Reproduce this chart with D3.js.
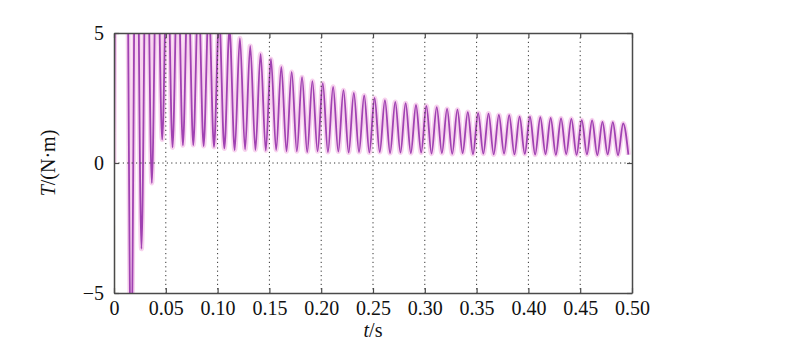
<!DOCTYPE html>
<html>
<head>
<meta charset="utf-8">
<script src="https://cdn.jsdelivr.net/npm/d3@7"></script>
<style>
  body { margin: 0; background: #fff; }
  text { font-family: "Liberation Serif", "Times New Roman", serif; }
</style>
</head>
<body>
<div id="chart"></div>
<script>
// tick values
const xTicks = [0, 0.05, 0.10, 0.15, 0.20, 0.25, 0.30, 0.35, 0.40, 0.45, 0.50];
const yTicks = [-5, 0, 5];

// torque signal: start point, then alternating peaks / troughs
const startPoint = [0, 0];
const peakTimes = [0.0015, 0.0115, 0.0215, 0.0315, 0.0415, 0.0515, 0.0615, 0.0715, 0.0815, 0.0915,
  0.1015, 0.1115, 0.1215, 0.1315, 0.1415, 0.1515, 0.1615, 0.1715, 0.1815, 0.1915,
  0.2015, 0.2115, 0.2215, 0.2315, 0.2415, 0.2515, 0.2615, 0.2715, 0.2815, 0.2915,
  0.3015, 0.3115, 0.3215, 0.3315, 0.3415, 0.3515, 0.3615, 0.3715, 0.3815, 0.3915,
  0.4015, 0.4115, 0.4215, 0.4315, 0.4415, 0.4515, 0.4615, 0.4715, 0.4815, 0.4915];
const peakValues = [9, 14, 13, 11, 9.5, 8.5, 8, 7.3, 6.7, 6.1,
  5.6, 5.15, 4.8, 4.5, 4.2, 4.0, 3.7, 3.5, 3.3, 3.15,
  3.07, 2.93, 2.8, 2.7, 2.6, 2.5, 2.42, 2.35, 2.3, 2.23,
  2.2, 2.15, 2.08, 2.05, 1.96, 1.92, 1.9, 1.85, 1.84, 1.78,
  1.78, 1.76, 1.73, 1.72, 1.7, 1.65, 1.64, 1.58, 1.57, 1.52];
const troughTimes = [0.0065, 0.0165, 0.0265, 0.0365, 0.0465, 0.0565, 0.0665, 0.0765, 0.0865, 0.0965,
  0.1065, 0.1165, 0.1265, 0.1365, 0.1465, 0.1565, 0.1665, 0.1765, 0.1865, 0.1965,
  0.2065, 0.2165, 0.2265, 0.2365, 0.2465, 0.2565, 0.2665, 0.2765, 0.2865, 0.2965,
  0.3065, 0.3165, 0.3265, 0.3365, 0.3465, 0.3565, 0.3665, 0.3765, 0.3865, 0.3965,
  0.4065, 0.4165, 0.4265, 0.4365, 0.4465, 0.4565, 0.4665, 0.4765, 0.4865, 0.4965];
const troughValues = [6, -8, -3.3, -0.77, 0.9, 0.6, 0.68, 0.69, 0.65, 0.62,
  0.56, 0.5, 0.52, 0.5, 0.48, 0.5, 0.45, 0.45, 0.42, 0.45,
  0.42, 0.44, 0.4, 0.42, 0.4, 0.42, 0.38, 0.4, 0.38, 0.4,
  0.36, 0.38, 0.35, 0.38, 0.34, 0.36, 0.33, 0.36, 0.33, 0.35,
  0.32, 0.34, 0.31, 0.34, 0.31, 0.33, 0.3, 0.33, 0.3, 0.32];

// short yellow trace at t = 0
const yellowTimes = [0, 0.0002];
const yellowValues = [0, -12];

const margin = { top: 33, right: 153, bottom: 61, left: 114 };
const W = 785, H = 354;
const width = W - margin.left - margin.right;
const height = H - margin.top - margin.bottom;

const svg = d3.select('#chart').append('svg')
  .attr('width', W)
  .attr('height', H);

const chart = svg.append('g')
  .attr('transform', `translate(${margin.left},${margin.top})`);

const x = d3.scaleLinear().domain([0, 0.5]).range([0, width]);
const y = d3.scaleLinear().domain([-5, 5]).range([height, 0]);

svg.append('defs').append('clipPath').attr('id', 'plot')
  .append('rect').attr('width', width).attr('height', height);

// build the signal points
const signal = [startPoint];
peakTimes.forEach((t, i) => {
  signal.push([t, peakValues[i]]);
  signal.push([troughTimes[i], troughValues[i]]);
});
const yellow = yellowTimes.map((t, i) => [t, yellowValues[i]]);

const line = d3.line()
  .x(d => x(d[0]))
  .y(d => y(d[1]))
  .curve(d3.curveMonotoneX);

const series = chart.append('g').attr('clip-path', 'url(#plot)');

series.append('path')
  .datum(signal)
  .attr('d', line)
  .attr('fill', 'none')
  .attr('stroke', '#f7d2ee')
  .attr('stroke-width', 5);

series.append('path')
  .datum(signal)
  .attr('d', line)
  .attr('fill', 'none')
  .attr('stroke', '#a042b2')
  .attr('stroke-width', 1.8);

// grid (drawn on top, dotted)
const grid = chart.append('g').attr('class', 'grid');
grid.selectAll('.vgrid')
  .data(xTicks.filter(d => d > 0 && d < 0.5))
  .enter().append('line')
  .attr('x1', d => x(d)).attr('x2', d => x(d))
  .attr('y1', 0).attr('y2', height)
  .attr('stroke', '#333')
  .attr('stroke-width', 1)
  .attr('stroke-dasharray', '1.2,3.2');
grid.selectAll('.hgrid')
  .data(yTicks.filter(d => d > -5 && d < 5))
  .enter().append('line')
  .attr('x1', 0).attr('x2', width)
  .attr('y1', d => y(d)).attr('y2', d => y(d))
  .attr('stroke', '#333')
  .attr('stroke-width', 1)
  .attr('stroke-dasharray', '1.2,3.2');

// axes
const fmtX = d => d === 0 ? '0' : d3.format('.2f')(d);
const fmtY = d => d < 0 ? '\u2212' + (-d) : String(d);

const xAxis = chart.append('g')
  .attr('transform', `translate(0,${height})`)
  .call(d3.axisBottom(x).tickValues(xTicks).tickFormat(fmtX)
    .tickSizeInner(-5).tickSizeOuter(0).tickPadding(8));

const xTop = chart.append('g')
  .call(d3.axisTop(x).tickValues(xTicks).tickFormat('')
    .tickSizeInner(-5).tickSizeOuter(0));

const yAxis = chart.append('g')
  .call(d3.axisLeft(y).tickValues(yTicks).tickFormat(fmtY)
    .tickSizeInner(-5).tickSizeOuter(0).tickPadding(10));

const yRight = chart.append('g')
  .attr('transform', `translate(${width},0)`)
  .call(d3.axisRight(y).tickValues(yTicks).tickFormat('')
    .tickSizeInner(-5).tickSizeOuter(0));

[xAxis, xTop, yAxis, yRight].forEach(a => {
  a.select('.domain').attr('stroke', '#4a4a4a').attr('stroke-width', 1.5);
  a.selectAll('.tick line').attr('stroke', '#4a4a4a').attr('stroke-width', 1.2);
  a.selectAll('.tick text').attr('fill', '#111').style('font-size', '20px')
    .style('font-family', '"Liberation Serif", serif');
});

// yellow trace sits on the left axis
series.append('path')
  .datum(yellow)
  .attr('d', line)
  .attr('fill', 'none')
  .attr('stroke', '#dcd77a')
  .attr('stroke-width', 2);

// axis titles
const yTitle = svg.append('text')
  .attr('transform', `translate(55,${margin.top + height / 2}) rotate(-90)`)
  .attr('text-anchor', 'middle')
  .style('font-size', '20px')
  .attr('fill', '#111');
yTitle.append('tspan').style('font-style', 'italic').text('T');
yTitle.append('tspan').text('/(N\u00b7m)');

const xTitle = svg.append('text')
  .attr('x', margin.left + width / 2)
  .attr('y', 337)
  .attr('text-anchor', 'middle')
  .style('font-size', '20px')
  .attr('fill', '#111');
xTitle.append('tspan').style('font-style', 'italic').text('t');
xTitle.append('tspan').text('/s');
</script>
</body>
</html>
